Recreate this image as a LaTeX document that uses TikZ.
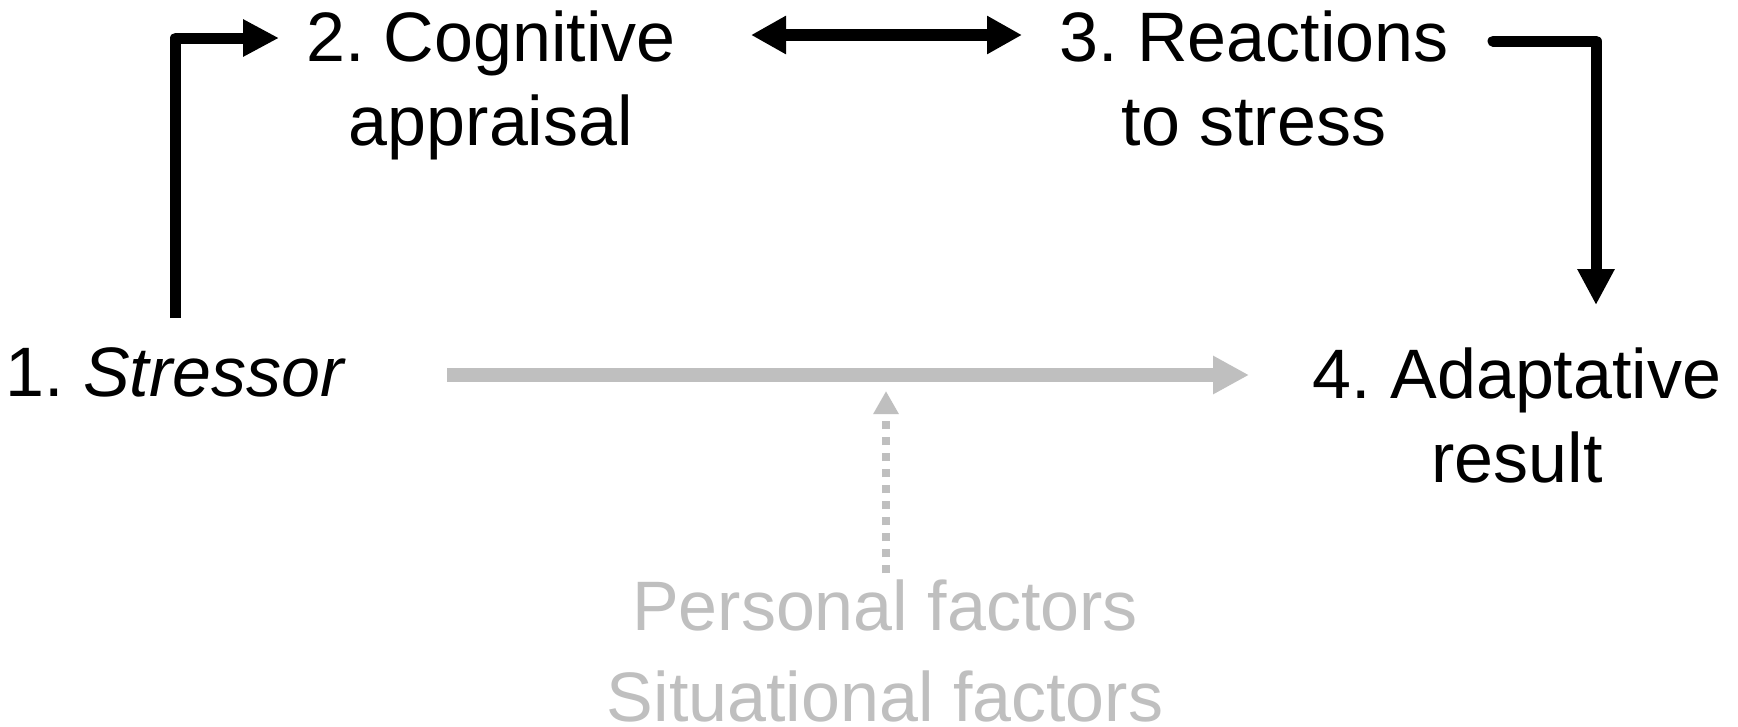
\documentclass[tikz,border=0pt]{standalone}
\usepackage{fontspec}
\setmainfont{Liberation Sans}
\usetikzlibrary{arrows.meta}
\definecolor{factorgray}{RGB}{191,191,191}
\tikzset{
  txt/.style={inner sep=0pt, anchor=base, font=\fontsize{70}{84}\selectfont},
  flow/.style={line width=11pt, line join=round, -{Triangle[length=36pt,width=35pt]}},
  both/.style={line width=12pt, {Triangle[length=35pt,width=36pt]}-{Triangle[length=35pt,width=36pt]}},
  moderator/.style={draw=factorgray, line width=13.5pt, -{Triangle[length=36pt,width=36pt]}},
  influence/.style={draw=factorgray, line width=8pt, dash pattern=on 8pt off 8pt,
    -{Triangle[length=23pt,width=24pt]}}
}
\frenchspacing
\begin{document}
\begin{tikzpicture}[x=1pt,y=-1pt]
  \path[use as bounding box, fill=white] (0,0) rectangle (1738,726);

  % stages of the stress process
  \node[txt, anchor=base west] (stressor) at (5,396) {1. \textit{Stressor}};
  \node[txt] (appraisal) at (491,61) {\begin{tabular}[t]{@{}c@{}}2. Cognitive\\appraisal\end{tabular}};
  \node[txt] (reactions) at (1254,61) {\begin{tabular}[t]{@{}c@{}}3. Reactions\\to stress\end{tabular}};
  \node[txt] (result) at (1517,398) {\begin{tabular}[t]{@{}c@{}}4. Adaptative\\result\end{tabular}};

  % moderating factors
  \node[txt, text=factorgray] (personal) at (885,630) {Personal factors};
  \node[txt, text=factorgray] (situational) at (885,721) {Situational factors};

  % connector end points
  \coordinate (stressorOut) at (175.5,318);
  \coordinate (appraisalIn) at (279,38);
  \coordinate (appraisalOut) at (751,35);
  \coordinate (reactionsIn) at (1022,35);
  \coordinate (reactionsOut) at (1493,41);
  \coordinate (resultIn) at (1596,305);
  \coordinate (directOut) at (447,375);
  \coordinate (directIn) at (1249,375);
  \coordinate (factorsOut) at (886,573);
  \coordinate (factorsIn) at (886,391);

  % connectors
  \draw[flow] (stressorOut) |- (appraisalIn);
  \draw[both] (appraisalOut) -- (reactionsIn);
  \draw[flow, line cap=round] (reactionsOut) -| (resultIn);
  \draw[moderator] (directOut) -- (directIn);
  \draw[influence] (factorsOut) -- (factorsIn);
\end{tikzpicture}
\end{document}
